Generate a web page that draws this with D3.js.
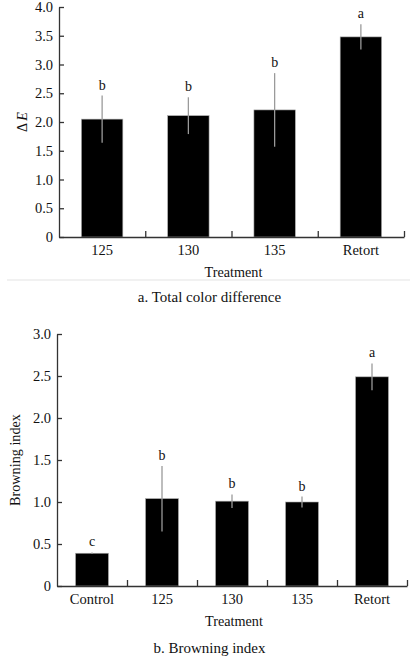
<!DOCTYPE html>
<html>
<head>
<meta charset="UTF-8">
<title>Color difference and browning index</title>
<script src="https://cdn.jsdelivr.net/npm/d3@7"></script>
<style>
  body { margin: 0; padding: 0; background: #fff; }
  svg text { font-family: "Liberation Serif", "Times New Roman", serif; fill: #111; }
</style>
</head>
<body>
<div id="chart"></div>
<script>
// panel a: total color difference
const catsA = ['125', '130', '135', 'Retort'];
const valsA = [2.05, 2.11, 2.21, 3.48];
const errA = [0.41, 0.32, 0.64, 0.22];
const lettersA = ['b', 'b', 'b', 'a'];
const ticksA = [0, 0.5, 1.0, 1.5, 2.0, 2.5, 3.0, 3.5, 4.0];

// panel b: browning index
const catsB = ['Control', '125', '130', '135', 'Retort'];
const valsB = [0.39, 1.04, 1.01, 1.00, 2.49];
const errB = [0.01, 0.39, 0.08, 0.065, 0.16];
const lettersB = ['c', 'b', 'b', 'b', 'a'];
const ticksB = [0, 0.5, 1.0, 1.5, 2.0, 2.5, 3.0];

const W = 415, H = 657;
const svg = d3.select('#chart').append('svg').attr('width', W).attr('height', H);

function drawPanel(opt) {
  const x = d3.scaleBand().domain(opt.cats).range([opt.x0, opt.x1]).paddingInner(opt.pad).paddingOuter(opt.pad / 2);
  const y = d3.scaleLinear().domain([0, opt.max]).range([opt.y0, opt.y1]);
  const g = svg.append('g');
  const fmt = v => v === 0 ? '0' : d3.format('.1f')(v);

  // bars
  g.selectAll('rect.bar').data(opt.vals).enter().append('rect')
    .attr('class', 'bar')
    .attr('x', (d, i) => x(opt.cats[i]))
    .attr('y', d => y(d))
    .attr('width', x.bandwidth())
    .attr('height', d => y(0) - y(d))
    .attr('fill', '#000')
    .attr('stroke', '#aaa')
    .attr('stroke-width', 0.6);

  // error bars (no caps)
  g.selectAll('line.err').data(opt.vals).enter().append('line')
    .attr('x1', (d, i) => x(opt.cats[i]) + x.bandwidth() / 2)
    .attr('x2', (d, i) => x(opt.cats[i]) + x.bandwidth() / 2)
    .attr('y1', (d, i) => y(d - opt.err[i]))
    .attr('y2', (d, i) => y(d + opt.err[i]))
    .attr('stroke', '#9a9a9a')
    .attr('stroke-width', 1.3);

  // significance letters
  g.selectAll('text.let').data(opt.vals).enter().append('text')
    .attr('x', (d, i) => x(opt.cats[i]) + x.bandwidth() / 2)
    .attr('y', (d, i) => y(d + opt.err[i]) - 6)
    .attr('text-anchor', 'middle')
    .attr('font-size', 14)
    .text((d, i) => opt.letters[i]);

  // y axis, inward ticks
  const yAxis = d3.axisRight(y).tickValues(opt.ticks).tickFormat('').tickSize(5).tickSizeOuter(0);
  const ya = g.append('g').attr('transform', `translate(${opt.x0},0)`).call(yAxis);
  ya.selectAll('line, path').attr('stroke', '#333').attr('stroke-width', 1.3);
  g.selectAll('text.yt').data(opt.ticks).enter().append('text')
    .attr('x', opt.x0 - 6)
    .attr('y', d => y(d) + 5)
    .attr('text-anchor', 'end')
    .attr('font-size', 14.5)
    .text(fmt);

  // x axis, ticks at category boundaries pointing up
  const bounds = opt.cats.map((c, i) => opt.x0 + (i + 1) * (opt.x1 - opt.x0) / opt.cats.length);
  const xb = d3.scaleLinear().domain([opt.x0, opt.x1]).range([opt.x0, opt.x1]);
  const xAxis = d3.axisTop(xb).tickValues(bounds).tickFormat('').tickSize(6).tickSizeOuter(0);
  const xa = g.append('g').attr('transform', `translate(0,${opt.y0})`).call(xAxis);
  xa.selectAll('line, path').attr('stroke', '#333').attr('stroke-width', 1.3);
  g.selectAll('text.xt').data(opt.cats).enter().append('text')
    .attr('x', d => x(d) + x.bandwidth() / 2)
    .attr('y', opt.y0 + 18)
    .attr('text-anchor', 'middle')
    .attr('font-size', 14.5)
    .text(d => d);

  g.append('text')
    .attr('x', (opt.x0 + opt.x1) / 2 + 2)
    .attr('y', opt.y0 + 40)
    .attr('text-anchor', 'middle')
    .attr('font-size', 14.2)
    .text('Treatment');

  const yl = g.append('text')
    .attr('transform', `translate(${opt.ylx},${opt.yly}) rotate(-90)`)
    .attr('text-anchor', 'middle')
    .attr('font-size', 14.2);
  opt.ylabel(yl);

  g.append('text')
    .attr('x', W / 2 + 2)
    .attr('y', opt.capY)
    .attr('text-anchor', 'middle')
    .attr('font-size', 15)
    .text(opt.caption);
}

drawPanel({
  cats: catsA, vals: valsA, err: errA, letters: lettersA, ticks: ticksA, max: 4,
  x0: 59, x1: 404, y0: 237, y1: 7, pad: 0.52,
  ylx: 27, yly: 122,
  ylabel: t => { t.append('tspan').text('\u0394'); t.append('tspan').attr('font-style', 'italic').attr('dx', 2).text('E'); },
  caption: 'a. Total color difference', capY: 302
});

// separator between panels
svg.append('line').attr('x1', 7).attr('x2', 410).attr('y1', 280).attr('y2', 280)
  .attr('stroke', '#e3e3e3').attr('stroke-width', 1);

drawPanel({
  cats: catsB, vals: valsB, err: errB, letters: lettersB, ticks: ticksB, max: 3,
  x0: 57, x1: 407, y0: 586, y1: 334, pad: 0.53,
  ylx: 20, yly: 460,
  ylabel: t => t.text('Browning index'),
  caption: 'b. Browning index', capY: 653
});
</script>
</body>
</html>
